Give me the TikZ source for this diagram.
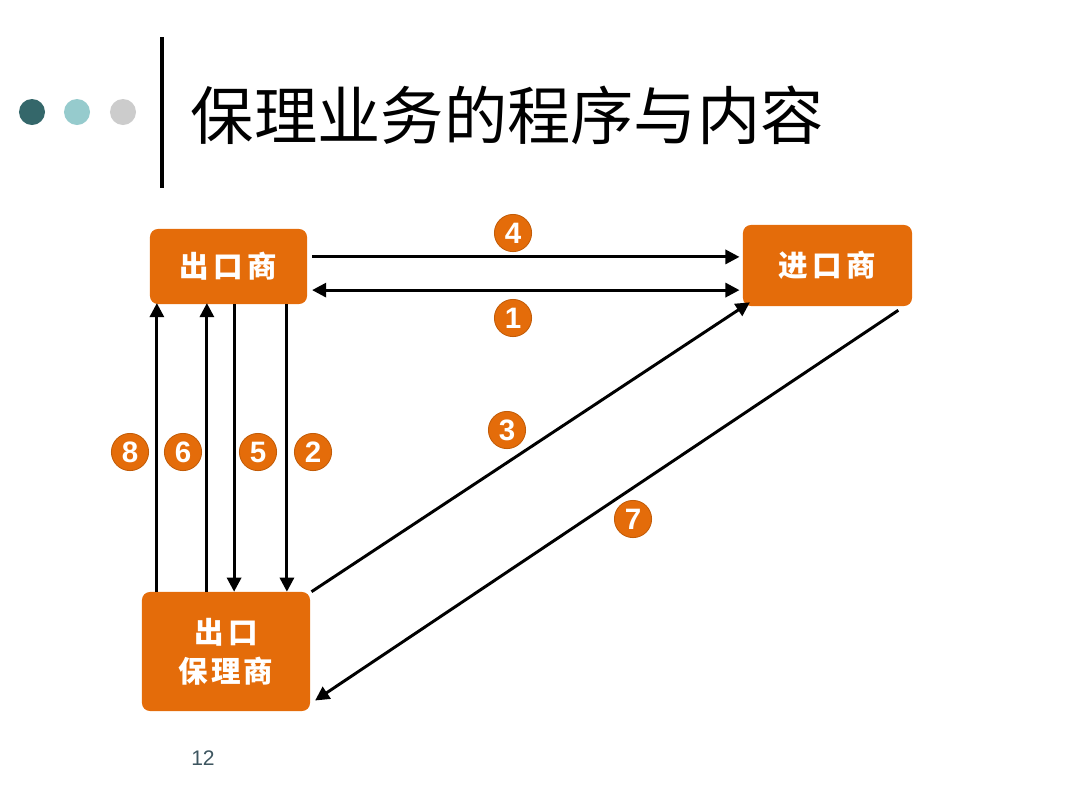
\documentclass[tikz,border=0pt]{standalone}
\usepackage{fontspec}
\usepackage{xcolor}
\usepackage{tikz}
\usetikzlibrary{arrows.meta}
\setmainfont{Liberation Sans}
\newfontfamily\cjk{Noto Sans CJK SC}
\definecolor{fcorange}{RGB}{228, 108, 10}
\definecolor{fcdark}{RGB}{52, 103, 106}
\definecolor{fclight}{RGB}{150, 203, 205}
\definecolor{fcgray}{RGB}{204, 204, 204}
\definecolor{fcpage}{RGB}{62, 86, 96}

\begin{document}
\begin{tikzpicture}[x=0.025cm, y=-0.025cm,
  party/.style={fill=fcorange, rounded corners=0.2cm, text=white, align=center, inner sep=0pt,
    font=\cjk\bfseries\fontsize{21}{25}\selectfont},
  stepno/.style={circle, fill=fcorange, draw=fcorange!85!black, line width=0.6pt, text=white,
    minimum size=0.93cm, inner sep=0pt, font=\bfseries\fontsize{21}{21}\selectfont},
  flow/.style={line width=2.1pt, -{Triangle[length=10pt,width=10pt]}}]
\useasboundingbox (0,0) rectangle (1080,810);

% Header
\fill[fcdark] (32,112) circle (0.325cm);
\fill[fclight] (77,112) circle (0.325cm);
\fill[fcgray] (123,112) circle (0.325cm);
\draw[line width=2.8pt] (162,37) -- (162,188);
\node[anchor=west, font=\cjk\fontsize{45}{45}\selectfont] (title) at (186,115) {保理业务的程序与内容};

% Parties
\node[party, minimum width=3.925cm, minimum height=1.875cm] (exp) at (228.5,266.5) {出\hspace{3pt}口\hspace{3pt}商};
\node[party, minimum width=4.225cm, minimum height=2.025cm] (imp) at (827.5,265.5) {进\hspace{3pt}口\hspace{3pt}商};
\node[party, minimum width=4.2cm, minimum height=2.975cm] (fac) at (226,651.5) {出\hspace{3pt}口\\[3pt]保\hspace{2pt}理\hspace{2pt}商};

% Exporter <-> importer
\coordinate (h4) at ([yshift=0.24cm]exp.east);
\coordinate (h1) at ([yshift=-0.59cm]exp.east);
\draw[flow, shorten <=0.12cm, shorten >=0.08cm] (h4) -- (h4 -| imp.west);
\draw[flow, {Triangle[length=10pt,width=10pt]}-{Triangle[length=10pt,width=10pt]}, shorten <=0.12cm, shorten >=0.08cm] (h1) -- (h1 -| imp.west);

% Exporter <-> factor
\coordinate (v8) at ([xshift=-1.79cm]exp.south);
\coordinate (v6) at ([xshift=-0.54cm]exp.south);
\coordinate (v5) at ([xshift=0.14cm]exp.south);
\coordinate (v2) at ([xshift=1.46cm]exp.south);
\draw[flow, shorten >=-0.03cm] (v8 |- fac.north) -- (v8);
\draw[flow, shorten >=-0.03cm] (v6 |- fac.north) -- (v6);
\draw[flow] (v5) -- (v5 |- fac.north);
\draw[flow] (v2) -- (v2 |- fac.north);

% Factor <-> importer
\draw[flow] ([xshift=0.03cm]fac.north east) -- ([xshift=0.18cm,yshift=0.1cm]imp.south west);
\draw[flow] ([xshift=-0.35cm,yshift=-0.1cm]imp.south east) -- ([xshift=0.12cm,yshift=0.27cm]fac.south east);

% Step numbers
\node[stepno] (s4) at (513,233) {4};
\node[stepno] (s1) at (513,318) {1};
\node[stepno] (s3) at (507,430) {3};
\node[stepno] (s7) at (633,519) {7};
\node[stepno] (s8) at (130,452) {8};
\node[stepno] (s6) at (183,452) {6};
\node[stepno] (s5) at (258,452) {5};
\node[stepno] (s2) at (313,452) {2};

\node[font=\fontsize{15}{15}\selectfont, text=fcpage] (pageno) at (203,758) {12};
\end{tikzpicture}
\end{document}
